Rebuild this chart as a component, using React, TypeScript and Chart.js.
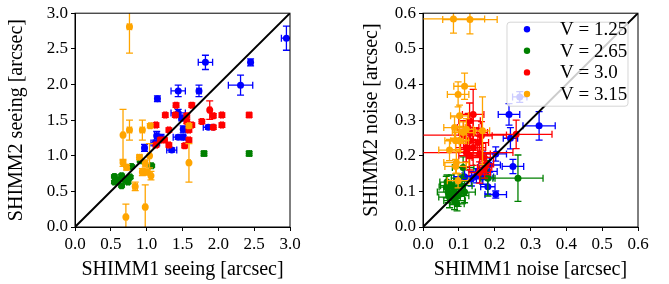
import React, { useEffect, useRef } from 'react';
import { Chart, registerables } from 'chart.js';
Chart.register(...registerables);

const FONT = "'Liberation Serif', 'Times New Roman', serif";

// ---- Left panel: seeing ----
const seeingTicks = [0, 0.5, 1.0, 1.5, 2.0, 2.5, 3.0];
const seeingBlueX = [2.95, 1.82, 2.45, 2.31, 1.44, 1.73, 1.15, 1.44, 1.49, 1.86, 1.51, 1.14, 1.19, 1.44, 1.51, 0.97, 1.12, 1.35];
const seeingBlueY = [2.65, 2.31, 2.31, 1.99, 1.91, 1.91, 1.80, 1.60, 1.53, 1.40, 1.37, 1.28, 1.26, 1.26, 1.26, 1.11, 1.18, 1.08];
const seeingBlueXErr = [0.07, 0.10, 0.03, 0.17, 0.10, 0.03, 0.03, 0.10, 0.04, 0.07, 0.03, 0.03, 0.05, 0.07, 0.03, 0.03, 0.06, 0.07];
const seeingBlueYErr = [0.17, 0.10, 0.05, 0.14, 0.08, 0.08, 0.04, 0.05, 0.04, 0.03, 0.05, 0.06, 0.04, 0.03, 0.03, 0.05, 0.04, 0.03];

const seeingGreenX = [1.80, 2.43, 0.91, 1.07, 0.79, 0.55, 0.65, 0.77, 0.55, 0.65, 0.74, 0.60, 0.70];
const seeingGreenY = [1.03, 1.03, 0.93, 0.86, 0.85, 0.71, 0.72, 0.70, 0.63, 0.58, 0.63, 0.66, 0.66];
const seeingGreenXErr = [0.03, 0.03, 0.02, 0.02, 0.02, 0.02, 0.02, 0.02, 0.02, 0.02, 0.02, 0.02, 0.02];
const seeingGreenYErr = [0.03, 0.03, 0.02, 0.02, 0.02, 0.02, 0.02, 0.02, 0.02, 0.02, 0.02, 0.02, 0.02];

const seeingRedX = [1.41, 1.63, 1.88, 1.93, 2.05, 2.43, 1.26, 1.40, 1.56, 1.77, 1.56, 1.63, 1.13, 1.93, 2.05, 1.31, 1.59, 1.25, 1.19, 1.59, 1.31, 1.53, 1.13];
const seeingRedY = [1.71, 1.71, 1.64, 1.56, 1.57, 1.57, 1.57, 1.57, 1.56, 1.48, 1.48, 1.43, 1.43, 1.40, 1.43, 1.36, 1.36, 1.22, 1.22, 1.22, 1.15, 1.14, 1.15];
const seeingRedXErr = [0.02, 0.02, 0.02, 0.02, 0.02, 0.03, 0.02, 0.02, 0.02, 0.02, 0.02, 0.02, 0.02, 0.02, 0.02, 0.02, 0.02, 0.02, 0.02, 0.02, 0.02, 0.02, 0.02];
const seeingRedYErr = [0.03, 0.03, 0.13, 0.03, 0.03, 0.03, 0.03, 0.03, 0.03, 0.03, 0.03, 0.03, 0.03, 0.03, 0.03, 0.03, 0.03, 0.03, 0.03, 0.03, 0.03, 0.03, 0.03];

const seeingOrangeX = [0.76, 0.67, 0.76, 0.94, 1.05, 1.59, 1.59, 0.67, 0.72, 0.90, 0.98, 1.04, 0.94, 1.01, 1.06, 0.84, 0.98, 0.71];
const seeingOrangeY = [2.81, 1.29, 1.36, 1.36, 1.42, 1.42, 0.90, 0.90, 0.84, 0.98, 0.89, 1.00, 0.77, 0.77, 0.72, 0.57, 0.28, 0.14];
const seeingOrangeXErr = [0.03, 0.02, 0.03, 0.03, 0.02, 0.02, 0.02, 0.02, 0.02, 0.03, 0.03, 0.02, 0.03, 0.02, 0.02, 0.03, 0.02, 0.02];
const seeingOrangeYErr = [0.37, 0.36, 0.14, 0.14, 0.03, 0.03, 0.27, 0.05, 0.04, 0.03, 0.05, 0.17, 0.05, 0.04, 0.06, 0.06, 0.31, 0.18];

// ---- Right panel: noise ----
const noiseTicks = [0, 0.1, 0.2, 0.3, 0.4, 0.5, 0.6];
const noiseBlueX = [0.240, 0.324, 0.244, 0.251, 0.186, 0.203, 0.177, 0.149, 0.116, 0.135, 0.181, 0.203, 0.167, 0.270];
const noiseBlueY = [0.316, 0.284, 0.249, 0.170, 0.174, 0.205, 0.156, 0.144, 0.141, 0.135, 0.113, 0.091, 0.140, 0.365];
const noiseBlueXErr = [0.03, 0.045, 0.02, 0.03, 0.03, 0.03, 0.03, 0.04, 0.03, 0.03, 0.02, 0.03, 0.03, 0.02];
const noiseBlueYErr = [0.03, 0.04, 0.03, 0.02, 0.02, 0.02, 0.02, 0.02, 0.02, 0.02, 0.02, 0.01, 0.02, 0.015];

const noiseGreenX = [0.265, 0.181, 0.112, 0.067, 0.070, 0.079, 0.088, 0.098, 0.088, 0.084, 0.074, 0.107, 0.116, 0.095, 0.065];
const noiseGreenY = [0.137, 0.137, 0.167, 0.126, 0.098, 0.116, 0.107, 0.088, 0.074, 0.093, 0.084, 0.116, 0.098, 0.065, 0.112];
const noiseGreenXErr = [0.07, 0.02, 0.03, 0.02, 0.03, 0.03, 0.03, 0.03, 0.03, 0.02, 0.03, 0.03, 0.03, 0.02, 0.02];
const noiseGreenYErr = [0.065, 0.05, 0.03, 0.02, 0.03, 0.03, 0.03, 0.03, 0.025, 0.03, 0.03, 0.03, 0.03, 0.02, 0.03];

const noiseRedX = [0.140, 0.130, 0.126, 0.140, 0.113, 0.121, 0.260, 0.163, 0.130, 0.153, 0.140, 0.121, 0.158, 0.130, 0.167, 0.177, 0.172, 0.158];
const noiseRedY = [0.316, 0.298, 0.279, 0.265, 0.258, 0.209, 0.260, 0.256, 0.242, 0.237, 0.223, 0.223, 0.205, 0.200, 0.195, 0.177, 0.167, 0.153];
const noiseRedXErr = [0.03, 0.03, 0.03, 0.04, 0.12, 0.13, 0.10, 0.03, 0.03, 0.03, 0.035, 0.03, 0.03, 0.03, 0.03, 0.02, 0.02, 0.03];
const noiseRedYErr = [0.07, 0.05, 0.04, 0.05, 0.04, 0.04, 0.04, 0.04, 0.05, 0.04, 0.05, 0.04, 0.05, 0.04, 0.04, 0.03, 0.03, 0.03];

const noiseOrangeX = [0.085, 0.131, 0.116, 0.098, 0.102, 0.088, 0.112, 0.121, 0.091, 0.102, 0.166, 0.074, 0.093, 0.091, 0.098];
const noiseOrangeY = [0.584, 0.582, 0.395, 0.372, 0.312, 0.279, 0.265, 0.274, 0.242, 0.242, 0.270, 0.216, 0.181, 0.170, 0.130];
const noiseOrangeXErr = [0.087, 0.076, 0.03, 0.03, 0.025, 0.03, 0.03, 0.02, 0.03, 0.025, 0.02, 0.03, 0.035, 0.03, 0.03];
const noiseOrangeYErr = [0.04, 0.04, 0.037, 0.035, 0.03, 0.03, 0.03, 0.03, 0.025, 0.03, 0.095, 0.03, 0.03, 0.02, 0.02];

const legendLabels = ['V = 1.25', 'V = 2.65', 'V = 3.0', 'V = 3.15'];
const COLORS = ['#0000ff', '#008000', '#ff0000', '#ffa500'];

const pts = (xs: number[], ys: number[]) => xs.map((x, i) => ({ x, y: ys[i] }));

const errorBarPlugin = {
  id: 'errbars',
  beforeDatasetDraw(chart: any, args: any) {
    const ds = chart.data.datasets[args.index];
    if (!ds.xErr) return;
    const { ctx, chartArea: a, scales } = chart;
    const xs = scales.x, ys = scales.y;
    ctx.save();
    ctx.beginPath();
    ctx.rect(a.left, a.top, a.right - a.left, a.bottom - a.top);
    ctx.clip();
    ctx.strokeStyle = ds.backgroundColor;
    ctx.lineWidth = 1.3;
    const c = 3.5;
    ds.data.forEach((p: any, i: number) => {
      const px = xs.getPixelForValue(p.x), py = ys.getPixelForValue(p.y);
      const x0 = xs.getPixelForValue(p.x - ds.xErr[i]), x1 = xs.getPixelForValue(p.x + ds.xErr[i]);
      const y0 = ys.getPixelForValue(p.y - ds.yErr[i]), y1 = ys.getPixelForValue(p.y + ds.yErr[i]);
      ctx.beginPath();
      ctx.moveTo(x0, py); ctx.lineTo(x1, py);
      ctx.moveTo(x0, py - c); ctx.lineTo(x0, py + c);
      ctx.moveTo(x1, py - c); ctx.lineTo(x1, py + c);
      ctx.moveTo(px, y0); ctx.lineTo(px, y1);
      ctx.moveTo(px - c, y0); ctx.lineTo(px + c, y0);
      ctx.moveTo(px - c, y1); ctx.lineTo(px + c, y1);
      ctx.stroke();
    });
    ctx.restore();
  },
};

const framePlugin = {
  id: 'frame',
  afterDatasetsDraw(chart: any) {
    const { ctx, chartArea: a } = chart;
    ctx.save();
    ctx.strokeStyle = '#000';
    ctx.lineWidth = 1;
    ctx.strokeRect(a.left, a.top, a.right - a.left, a.bottom - a.top);
    ctx.restore();
  },
};

const legendPlugin = {
  id: 'mplLegend',
  afterDraw(chart: any) {
    const opts = chart.options.plugins.mplLegend;
    if (!opts || !opts.show) return;
    const { ctx, chartArea: a } = chart;
    const left = a.right - 131, top = a.top + 9, w = 121, h = 84, r = 3;
    ctx.save();
    ctx.globalAlpha = 0.8;
    ctx.beginPath();
    ctx.moveTo(left + r, top);
    ctx.lineTo(left + w - r, top);
    ctx.arcTo(left + w, top, left + w, top + r, r);
    ctx.lineTo(left + w, top + h - r);
    ctx.arcTo(left + w, top + h, left + w - r, top + h, r);
    ctx.lineTo(left + r, top + h);
    ctx.arcTo(left, top + h, left, top + h - r, r);
    ctx.lineTo(left, top + r);
    ctx.arcTo(left, top, left + r, top, r);
    ctx.closePath();
    ctx.fillStyle = '#ffffff';
    ctx.fill();
    ctx.strokeStyle = '#cccccc';
    ctx.lineWidth = 1;
    ctx.stroke();
    ctx.globalAlpha = 1;
    ctx.font = `19px ${FONT}`;
    ctx.textBaseline = 'middle';
    ctx.textAlign = 'left';
    legendLabels.forEach((lab, i) => {
      const y = a.top + 16 + i * 21.6;
      ctx.fillStyle = COLORS[i];
      ctx.beginPath();
      ctx.arc(a.right - 111, y, 3.2, 0, Math.PI * 2);
      ctx.fill();
      ctx.fillStyle = '#000';
      ctx.fillText(lab, a.right - 78, y + 1);
    });
    ctx.restore();
  },
};

function makeDs(label: string, color: string, xs: number[], ys: number[], xe: number[], ye: number[], order: number) {
  return {
    label,
    data: pts(xs, ys),
    xErr: xe,
    yErr: ye,
    backgroundColor: color,
    borderColor: color,
    pointRadius: 3.5,
    pointBorderWidth: 0,
    showLine: false,
    order,
  } as any;
}

function buildConfig(p: {
  ticks: number[];
  xTitle: string;
  yTitle: string;
  yWidth: number;
  padRight: number;
  yTitlePad: number;
  series: any[];
  legend: boolean;
}) {
  const max = p.ticks[p.ticks.length - 1];
  const step = p.ticks[1] - p.ticks[0];
  const tickFont = { family: FONT, size: 17 };
  const titleFont = { family: FONT, size: 20 };
  const axisCommon = {
    type: 'linear',
    min: 0,
    max,
    grid: { display: true, drawOnChartArea: false, drawTicks: true, tickLength: 4, color: '#000', lineWidth: 1 },
    border: { display: true, color: '#000', width: 1 },
  };
  return {
    type: 'scatter',
    data: {
      datasets: [
        ...p.series,
        {
          label: 'diag',
          data: [{ x: 0, y: 0 }, { x: max, y: max }],
          showLine: true,
          borderColor: '#000',
          borderWidth: 2,
          pointRadius: 0,
          order: 0,
        },
      ],
    },
    options: {
      responsive: false,
      animation: false,
      events: [],
      layout: { padding: { left: 0, top: 12, right: p.padRight, bottom: 0 } },
      plugins: {
        legend: { display: false },
        tooltip: { enabled: false },
        mplLegend: { show: p.legend },
      },
      scales: {
        x: {
          ...axisCommon,
          afterFit: (s: any) => { s.height = 57; },
          ticks: {
            stepSize: step,
            autoSkip: false,
            maxRotation: 0,
            color: '#000',
            padding: 3,
            font: tickFont,
            callback: (v: any) => Number(v).toFixed(1),
          },
          afterBuildTicks: (s: any) => { s.ticks = p.ticks.map((v) => ({ value: v })); },
          title: { display: true, text: p.xTitle, color: '#000', font: titleFont, padding: { top: 0, bottom: 2 } },
        },
        y: {
          ...axisCommon,
          afterFit: (s: any) => { s.width = p.yWidth; },
          ticks: {
            stepSize: step,
            autoSkip: false,
            color: '#000',
            padding: 3,
            font: tickFont,
            callback: (v: any) => Number(v).toFixed(1),
          },
          afterBuildTicks: (s: any) => { s.ticks = p.ticks.map((v) => ({ value: v })); },
          title: { display: true, text: p.yTitle, color: '#000', font: titleFont, padding: { top: p.yTitlePad, bottom: 0 } },
        },
      },
    },
    plugins: [errorBarPlugin, framePlugin, legendPlugin],
  } as any;
}

export default function App() {
  const leftRef = useRef<HTMLCanvasElement>(null);
  const rightRef = useRef<HTMLCanvasElement>(null);

  useEffect(() => {
    const left = new Chart(leftRef.current!, buildConfig({
      ticks: seeingTicks,
      xTitle: 'SHIMM1 seeing [arcsec]',
      yTitle: 'SHIMM2 seeing [arcsec]',
      yWidth: 75,
      padRight: 44,
      yTitlePad: 5,
      legend: false,
      series: [
        makeDs(legendLabels[0], COLORS[0], seeingBlueX, seeingBlueY, seeingBlueXErr, seeingBlueYErr, 4),
        makeDs(legendLabels[1], COLORS[1], seeingGreenX, seeingGreenY, seeingGreenXErr, seeingGreenYErr, 3),
        makeDs(legendLabels[2], COLORS[2], seeingRedX, seeingRedY, seeingRedXErr, seeingRedYErr, 2),
        makeDs(legendLabels[3], COLORS[3], seeingOrangeX, seeingOrangeY, seeingOrangeXErr, seeingOrangeYErr, 1),
      ],
    }));
    const right = new Chart(rightRef.current!, buildConfig({
      ticks: noiseTicks,
      xTitle: 'SHIMM1 noise [arcsec]',
      yTitle: 'SHIMM2 noise [arcsec]',
      yWidth: 89,
      padRight: 31,
      yTitlePad: 26,
      legend: true,
      series: [
        makeDs(legendLabels[0], COLORS[0], noiseBlueX, noiseBlueY, noiseBlueXErr, noiseBlueYErr, 4),
        makeDs(legendLabels[1], COLORS[1], noiseGreenX, noiseGreenY, noiseGreenXErr, noiseGreenYErr, 3),
        makeDs(legendLabels[2], COLORS[2], noiseRedX, noiseRedY, noiseRedXErr, noiseRedYErr, 2),
        makeDs(legendLabels[3], COLORS[3], noiseOrangeX, noiseOrangeY, noiseOrangeXErr, noiseOrangeYErr, 1),
      ],
    }));
    return () => {
      left.destroy();
      right.destroy();
    };
  }, []);

  return (
    <div style={{ position: 'absolute', left: 0, top: 0, width: 669, height: 284, background: '#fff' }}>
      <canvas ref={leftRef} width={334} height={284} style={{ position: 'absolute', left: 0, top: 0, display: 'block' }} />
      <canvas ref={rightRef} width={335} height={284} style={{ position: 'absolute', left: 334, top: 0, display: 'block' }} />
    </div>
  );
}
